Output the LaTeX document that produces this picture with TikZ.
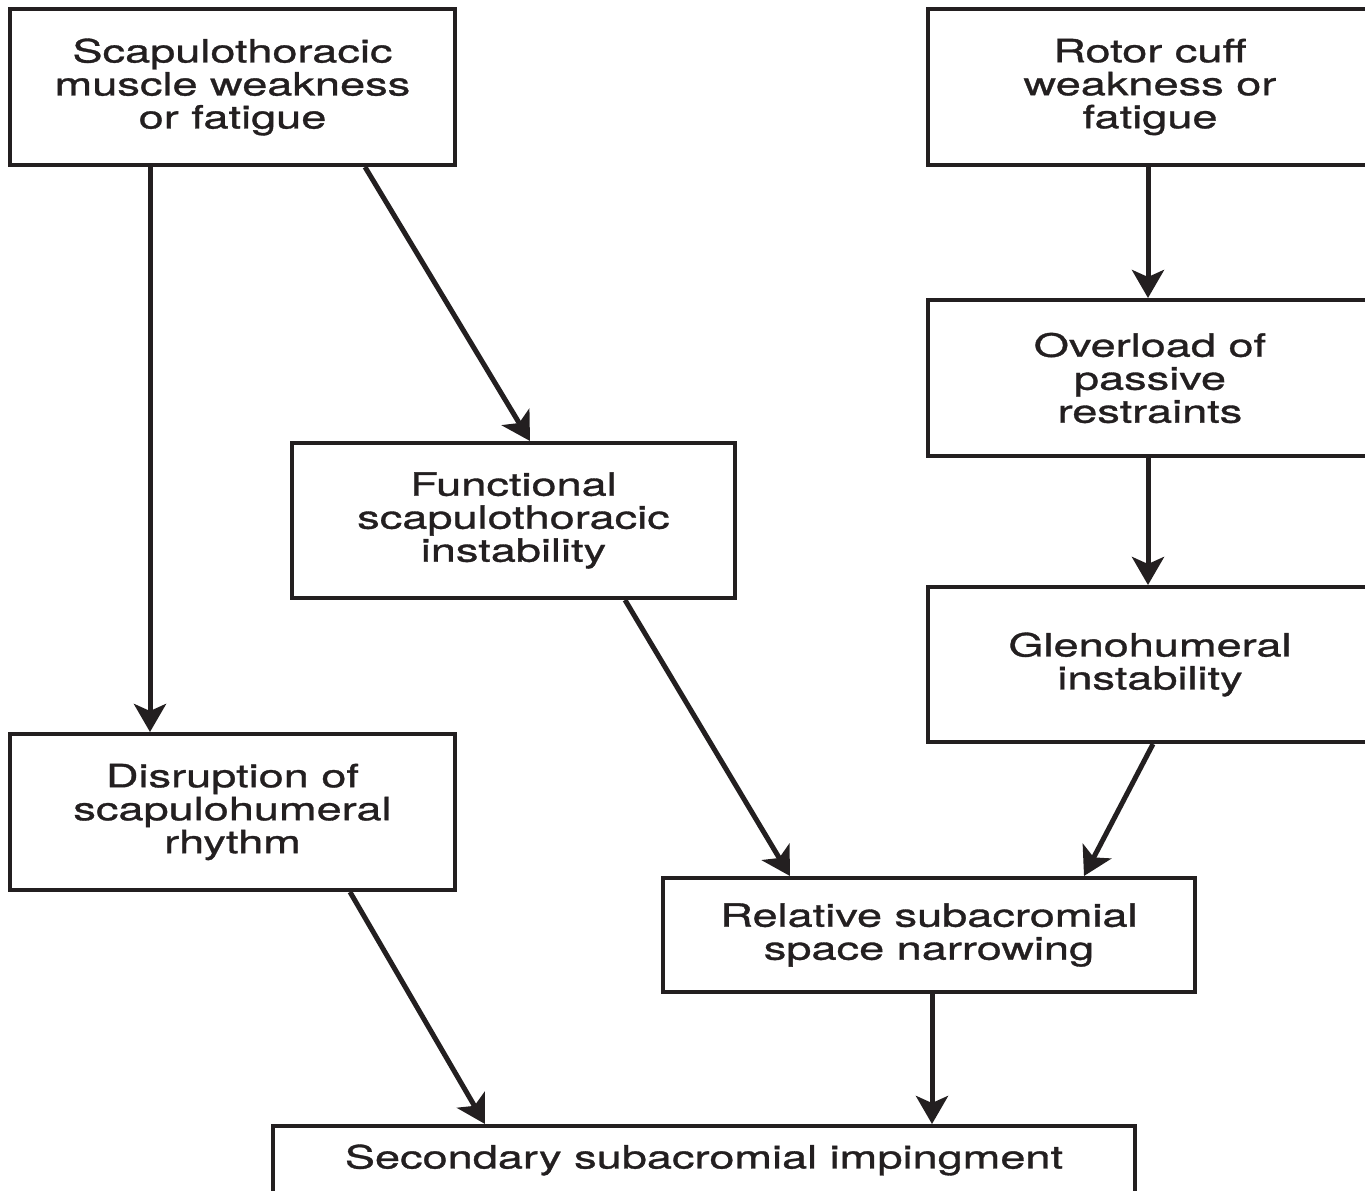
\documentclass[tikz,border=0pt]{standalone}
\usepackage{fontspec}
\setmainfont[FakeStretch=1.41,FakeBold=1]{TeX Gyre Heros}
\usetikzlibrary{arrows.meta}
\definecolor{ink}{HTML}{231F20}
\begin{document}
\begin{tikzpicture}[x=1pt,y=-1pt,
  box/.style={draw=ink, line width=4pt, rectangle, align=center, text=ink,
    inner sep=0pt, font=\fontsize{32}{33}\selectfont},
  flow/.style={draw=ink, line width=5pt,
    -{Stealth[length=28pt,width=32pt,inset=7pt]}}]
\useasboundingbox (0,0) rectangle (1365,1191);
\clip (0,0) rectangle (1365,1191);
\fill[white] (0,0) rectangle (1365,1191);

% boxes
\node[box, minimum width=445pt, minimum height=156pt] (b1) at (232.5,87)
  {Scapulothoracic\\muscle weakness\\or fatigue};
\node[box, minimum width=444pt, minimum height=156pt] (b2) at (1150,87)
  {Rotor cuff\\weakness or\\fatigue};
\node[box, minimum width=444pt, minimum height=156pt] (b3) at (1150,378)
  {Overload of\\passive\\restraints};
\node[box, minimum width=443pt, minimum height=155pt] (b4) at (513.5,520.5)
  {Functional\\scapulothoracic\\instability};
\node[box, minimum width=444pt, minimum height=155pt] (b5) at (1150,664.5)
  {Glenohumeral\\instability};
\node[box, minimum width=445pt, minimum height=156pt] (b6) at (232.5,812)
  {Disruption of\\scapulohumeral\\rhythm};
\node[box, minimum width=532pt, minimum height=114pt] (b7) at (929,935)
  {Relative subacromial\\space narrowing};
\node[box, minimum width=862pt, minimum height=68pt] (b8) at (704,1160)
  {Secondary subacromial impingment};

% connectors
\draw[flow] ([xshift=-82.5pt]b1.south) -- ([xshift=-82.5pt]b6.north);
\draw[flow] ([xshift=132.5pt]b1.south) -- ([xshift=16.5pt]b4.north);
\draw[flow] ([xshift=-2pt]b2.south) -- ([xshift=-2pt]b3.north);
\draw[flow] ([xshift=-2pt]b3.south) -- ([xshift=-2pt]b5.north);
\draw[flow] ([xshift=111.5pt]b4.south) -- ([xshift=-139pt]b7.north);
\draw[flow] ([xshift=3pt]b5.south) -- ([xshift=155pt]b7.north);
\draw[flow] ([xshift=117.5pt]b6.south) -- ([xshift=-219pt]b8.north);
\draw[flow] ([xshift=3pt]b7.south) -- ([xshift=228pt]b8.north);
\end{tikzpicture}
\end{document}
